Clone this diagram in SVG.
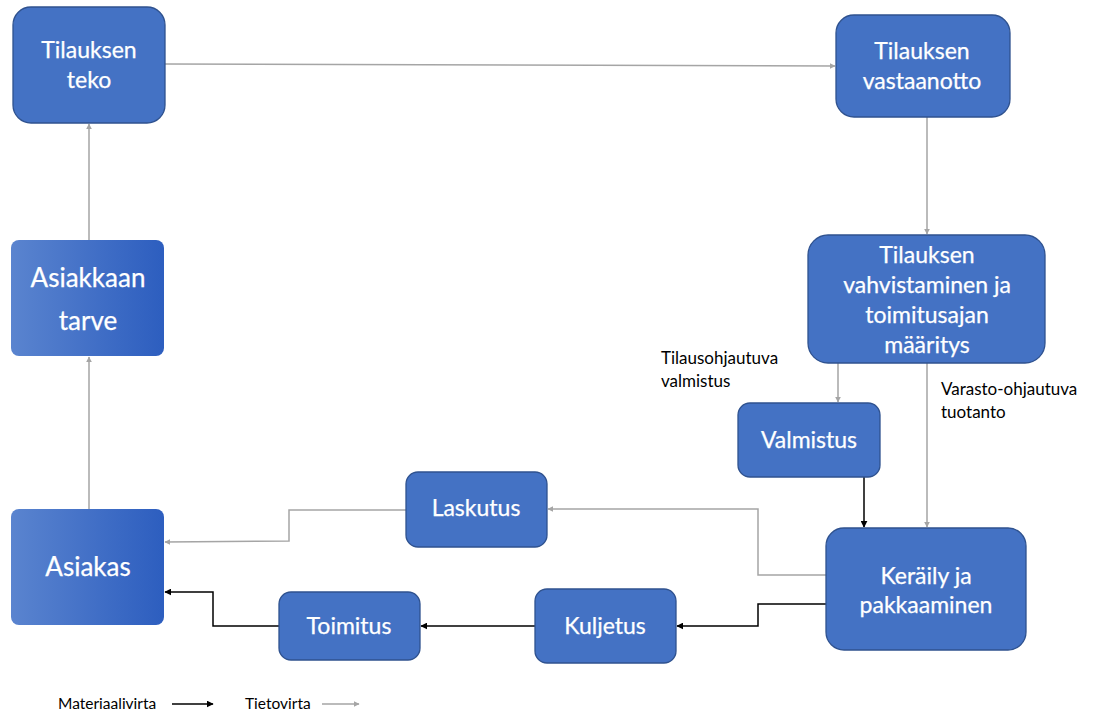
<svg xmlns="http://www.w3.org/2000/svg" width="1093" height="711" viewBox="0 0 1093 711">
  <style>
    .box { fill: #4472C4; stroke: #2F528F; stroke-width: 1.3; }
    .gbox { fill: url(#grad); }
    .t { font-family: Lato, "Open Sans", "Liberation Sans", sans-serif; fill: #ffffff; text-anchor: middle; font-size: 23px; stroke: #ffffff; stroke-width: 0.25; }
    .tb { font-size: 26px; }
    .lbl { font-family: Lato, "Open Sans", "Liberation Sans", sans-serif; fill: #000000; font-size: 17px; }
    .leg { font-size: 15.5px; }
    .info { fill: none; stroke: #A5A5A5; stroke-width: 1.5; marker-end: url(#ag); }
    .mat { fill: none; stroke: #000000; stroke-width: 1.5; marker-end: url(#ab); }
  </style>
  <defs>
    <linearGradient id="grad" x1="0" y1="0" x2="1" y2="0">
      <stop offset="0" stop-color="#5A84CF"/>
      <stop offset="1" stop-color="#2D5EBF"/>
    </linearGradient>
    <marker id="ag" viewBox="0 0 10 10" refX="9" refY="5" markerWidth="6" markerHeight="6" orient="auto" markerUnits="userSpaceOnUse">
      <path d="M0,0 L10,5 L0,10 z" fill="#A5A5A5"/>
    </marker>
    <marker id="ab" viewBox="0 0 10 10" refX="9" refY="5" markerWidth="7" markerHeight="7" orient="auto" markerUnits="userSpaceOnUse">
      <path d="M0,0 L10,5 L0,10 z" fill="#000000"/>
    </marker>
  </defs>
  <rect width="1093" height="711" fill="#ffffff"/>

  <g id="connectors">
    <path class="info" d="M165,64 L835,66"/>
    <path class="info" d="M927,117 L927,234"/>
    <path class="info" d="M838,363 L838,402"/>
    <path class="info" d="M927,363 L927,527"/>
    <path class="mat" d="M864,477 L864,527"/>
    <path class="info" d="M826,575 L758,575 L758,509 L548,509"/>
    <path class="info" d="M406,510 L289,510 L289,541 L165,542"/>
    <path class="mat" d="M826,604 L758,604 L758,626 L677,626"/>
    <path class="mat" d="M535,626 L421,626"/>
    <path class="mat" d="M279,626 L213,626 L213,592 L165,592"/>
    <path class="info" d="M89,509 L89,357"/>
    <path class="info" d="M89,240 L89,124"/>
  </g>

  <g id="tilauksen-teko">
    <rect class="box" x="13" y="7" width="152" height="116" rx="18"/>
    <text class="t" x="89" y="58">Tilauksen</text>
    <text class="t" x="89" y="88">teko</text>
  </g>
  <g id="tilauksen-vastaanotto">
    <rect class="box" x="836" y="15" width="174" height="102" rx="18"/>
    <text class="t" x="922" y="59">Tilauksen</text>
    <text class="t" x="922" y="89">vastaanotto</text>
  </g>
  <g id="tilauksen-vahvistaminen">
    <rect class="box" x="808" y="235" width="237" height="128" rx="20"/>
    <text class="t" x="927" y="263">Tilauksen</text>
    <text class="t" x="927" y="293">vahvistaminen ja</text>
    <text class="t" x="927" y="323">toimitusajan</text>
    <text class="t" x="927" y="353">määritys</text>
  </g>
  <g id="valmistus">
    <rect class="box" x="738" y="403" width="142" height="74" rx="12"/>
    <text class="t" x="809" y="448">Valmistus</text>
  </g>
  <g id="keraily">
    <rect class="box" x="826" y="528" width="200" height="122" rx="18"/>
    <text class="t" x="926" y="584">Keräily ja</text>
    <text class="t" x="926" y="613">pakkaaminen</text>
  </g>
  <g id="laskutus">
    <rect class="box" x="406" y="472" width="141" height="75" rx="12"/>
    <text class="t" x="476" y="516">Laskutus</text>
  </g>
  <g id="kuljetus">
    <rect class="box" x="535" y="589" width="141" height="74" rx="12"/>
    <text class="t" x="605" y="634">Kuljetus</text>
  </g>
  <g id="toimitus">
    <rect class="box" x="279" y="592" width="141" height="68" rx="12"/>
    <text class="t" x="349" y="634">Toimitus</text>
  </g>
  <g id="asiakkaan-tarve">
    <rect class="gbox" x="11" y="240" width="153" height="116" rx="8"/>
    <text class="t tb" x="88" y="287">Asiakkaan</text>
    <text class="t tb" x="88" y="330">tarve</text>
  </g>
  <g id="asiakas">
    <rect class="gbox" x="11" y="509" width="153" height="116" rx="8"/>
    <text class="t tb" x="88" y="576">Asiakas</text>
  </g>

  <g id="labels">
    <text class="lbl" x="661" y="364">Tilausohjautuva</text>
    <text class="lbl" x="661" y="387">valmistus</text>
    <text class="lbl" x="941" y="395">Varasto-ohjautuva</text>
    <text class="lbl" x="941" y="418">tuotanto</text>
  </g>

  <g id="legend">
    <text class="lbl leg" x="58" y="709">Materiaalivirta</text>
    <path class="mat" d="M172,704 L213,704"/>
    <text class="lbl leg" x="245" y="709">Tietovirta</text>
    <path class="info" d="M322,704 L359,704"/>
  </g>
</svg>
